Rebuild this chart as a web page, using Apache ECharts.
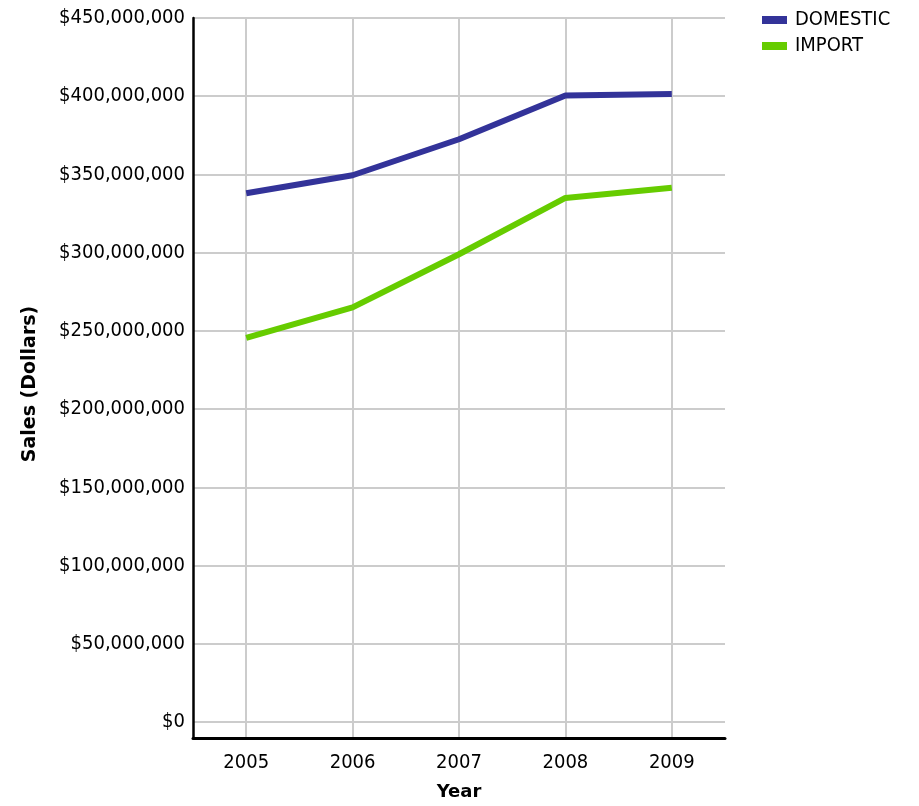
<!DOCTYPE html>
<html>
<head>
<meta charset="utf-8">
<script src="https://cdn.jsdelivr.net/npm/echarts@6/dist/echarts.min.js"></script>
<style>html,body{margin:0;padding:0;background:#fff;}#c{width:919px;height:806px;}</style>
</head>
<body>
<div id="c"></div>
<script>
const years = ['2005', '2006', '2007', '2008', '2009'];
const domestic = [338000000, 349500000, 372500000, 400500000, 401500000];
const importSales = [245500000, 265000000, 299000000, 335000000, 341500000];
const seriesNames = ['DOMESTIC', 'IMPORT'];
const yMin = 0, yMax = 450000000, yStep = 50000000;

const FONT = '"DejaVu Sans Condensed", "DejaVu Sans", sans-serif';
const BOLD = '"DejaVu Sans", sans-serif';
function money(v) {
  return '$' + Math.round(v).toString().replace(/\B(?=(\d{3})+(?!\d))/g, ',');
}
const chart = echarts.init(document.getElementById('c'), null, {renderer: 'canvas'});
chart.setOption({
  animation: false,
  backgroundColor: '#ffffff',
  textStyle: {fontFamily: FONT},
  legend: {
    orient: 'vertical', left: 762, top: 10, padding: 0, itemWidth: 25, itemHeight: 8, itemGap: 6,
    icon: 'rect',
    textStyle: {fontFamily: FONT, fontSize: 20, color: '#000', padding: [0, 0, 0, 3]},
    data: seriesNames
  },
  grid: [
    {left: 193, right: 194, top: 18, bottom: 84, containLabel: false},
    {left: 193, right: 194, top: 18, bottom: 68, containLabel: false}
  ],
  xAxis: [
    {gridIndex: 0, type: 'category', data: years, boundaryGap: true, show: false},
    {gridIndex: 1, type: 'category', data: years, boundaryGap: true,
     name: 'Year', nameLocation: 'middle', nameGap: 45,
     nameTextStyle: {fontFamily: BOLD, fontSize: 18, fontWeight: 'bold', color: '#000'},
     axisLine: {show: true, lineStyle: {color: '#000', width: 3}},
     axisTick: {show: false},
     axisLabel: {fontFamily: FONT, fontSize: 20, color: '#000', margin: 15},
     splitLine: {show: true, alignWithLabel: true, lineStyle: {color: '#cccccc', width: 2}}}
  ],
  yAxis: [
    {gridIndex: 0, type: 'value', min: yMin, max: yMax, interval: yStep,
     axisLine: {show: false}, axisTick: {show: false},
     axisLabel: {fontFamily: FONT, fontSize: 20, color: '#000', margin: 8, formatter: money},
     splitLine: {show: true, lineStyle: {color: '#cccccc', width: 2}}},
    {gridIndex: 1, type: 'value', min: 0, max: 1,
     name: 'Sales (Dollars)', nameLocation: 'middle', nameGap: 153,
     nameTextStyle: {fontFamily: BOLD, fontSize: 19, fontWeight: 'bold', color: '#000', padding: [0, 12, 0, 0]},
     axisLine: {show: true, lineStyle: {color: '#000', width: 2.5}},
     axisTick: {show: false}, axisLabel: {show: false}, splitLine: {show: false}}
  ],
  series: [
    {name: seriesNames[0], type: 'line', xAxisIndex: 0, yAxisIndex: 0, data: domestic,
     symbol: 'none', lineStyle: {width: 6, color: '#333399'}, itemStyle: {color: '#333399'}},
    {name: seriesNames[1], type: 'line', xAxisIndex: 0, yAxisIndex: 0, data: importSales,
     symbol: 'none', lineStyle: {width: 6, color: '#66cc00'}, itemStyle: {color: '#66cc00'}}
  ]
});
</script>
</body>
</html>
